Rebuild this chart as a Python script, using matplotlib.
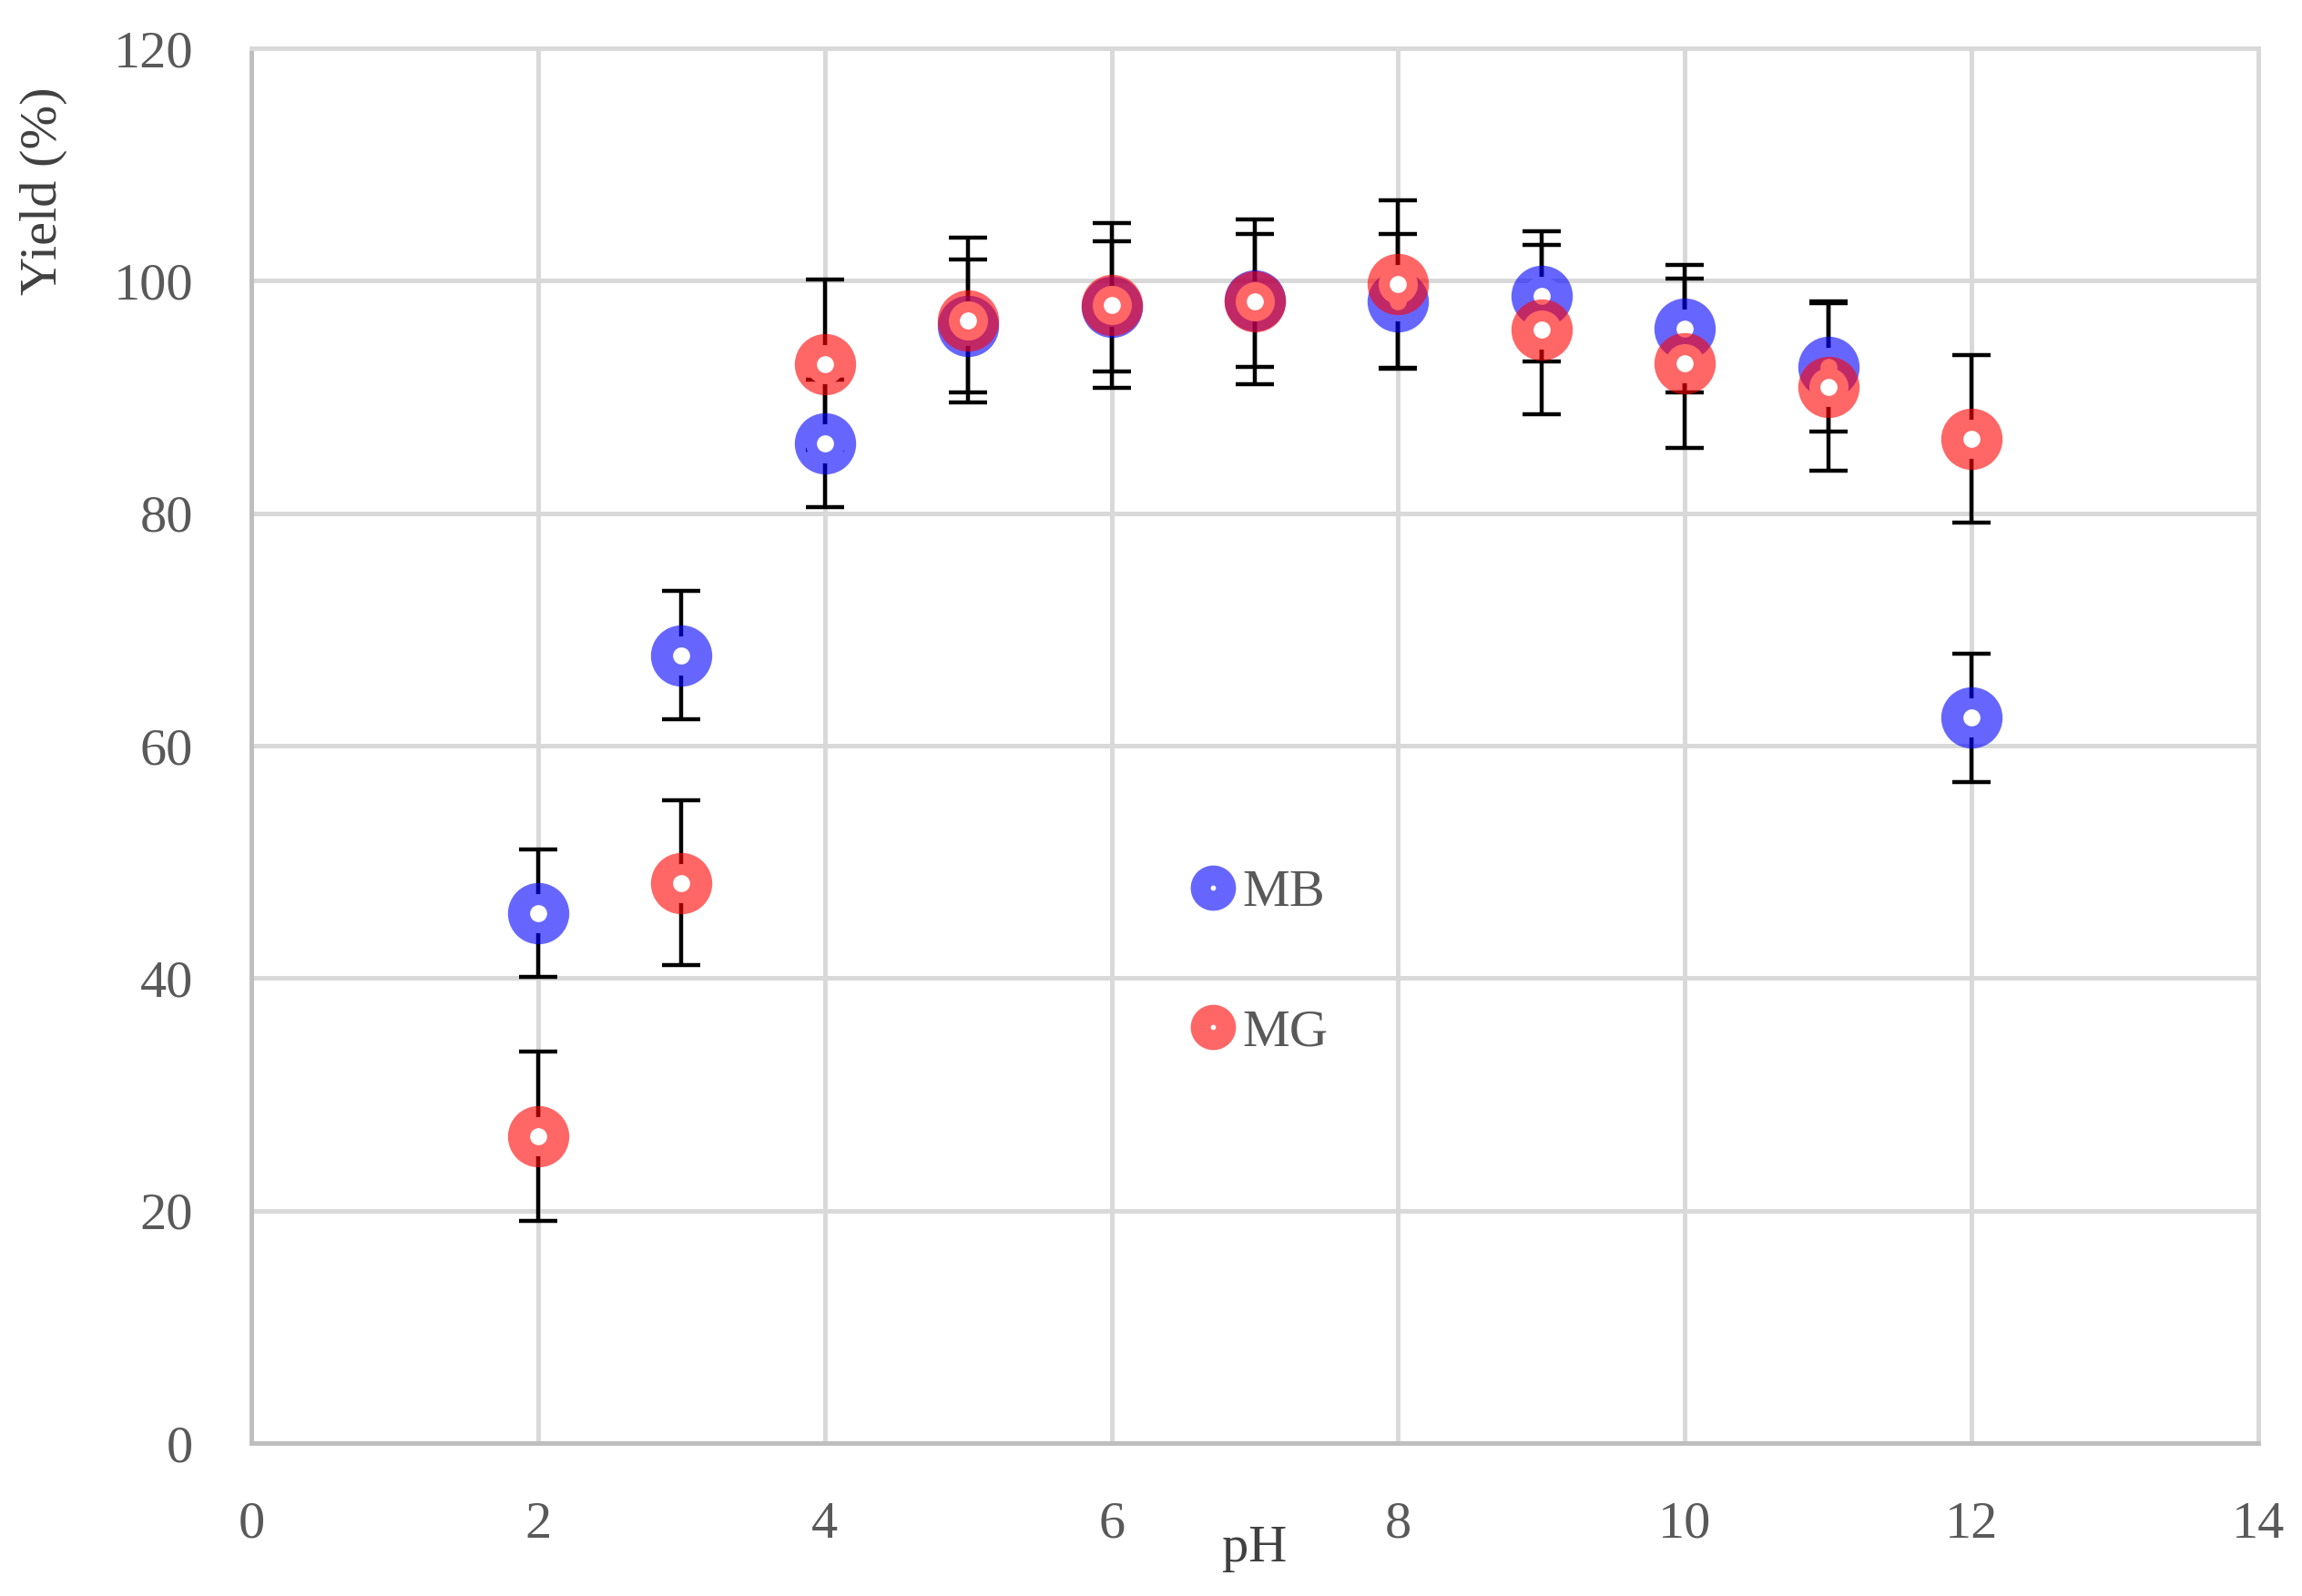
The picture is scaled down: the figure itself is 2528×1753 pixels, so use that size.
import matplotlib
matplotlib.use("Agg")
import matplotlib.pyplot as plt
from matplotlib.lines import Line2D

# pH values and measured yields (%) with error bars
ph = [2, 3, 4, 5, 6, 7, 8, 9, 10, 11, 12]
mb_yield = [45.6, 67.8, 86.0, 96.1, 97.8, 98.3, 98.2, 98.7, 95.9, 92.6, 62.4]
mb_err = [5.5, 5.5, 5.5, 5.7, 5.6, 5.7, 5.8, 5.6, 5.5, 5.6, 5.5]
mg_yield = [26.4, 48.2, 92.8, 96.6, 97.9, 98.2, 99.7, 95.8, 92.9, 90.9, 86.4]
mg_err = [7.3, 7.1, 7.3, 7.1, 7.1, 7.1, 7.2, 7.3, 7.3, 7.2, 7.2]

series_names = ["MB", "MG"]
x_ticks = [0, 2, 4, 6, 8, 10, 12, 14]
y_ticks = [0, 20, 40, 60, 80, 100, 120]

BLUE = (0, 0, 1, 0.6)
RED = (1, 0, 0, 0.6)
GRID = "#D9D9D9"
SERIF = ["Liberation Serif", "DejaVu Serif"]


def make_chart():
    fig = plt.figure(figsize=(25.28, 17.53), dpi=100)
    ax = fig.add_axes([0.1092, 0.0958, 0.8718, 0.8739])

    # error bars go under the markers
    for y, err in [(mb_yield, mb_err), (mg_yield, mg_err)]:
        ax.errorbar(ph, y, yerr=err, fmt="none", ecolor="black",
                    elinewidth=3.2, capsize=15, capthick=3.2, zorder=2)

    # ring markers: white face, thick translucent edge
    for y, color, z in [(mb_yield, BLUE, 3), (mg_yield, RED, 4)]:
        ax.plot(ph, y, linestyle="none", marker="o", markersize=31,
                markerfacecolor="white", markeredgecolor=color,
                markeredgewidth=17.5, zorder=z)

    ax.set_xlim(0, 14)
    ax.set_ylim(0, 120)
    ax.set_xticks(x_ticks)
    ax.set_yticks(y_ticks)
    ax.grid(True, color=GRID, linewidth=3.6, zorder=0)
    ax.set_axisbelow(True)

    for side in ["top", "right"]:
        ax.spines[side].set_color(GRID)
        ax.spines[side].set_linewidth(3.6)
    for side in ["left", "bottom"]:
        ax.spines[side].set_color("#BFBFBF")
        ax.spines[side].set_linewidth(3.6)

    ax.tick_params(length=0, pad=46, labelsize=42, labelcolor="#595959")
    for lab in ax.get_xticklabels() + ax.get_yticklabels():
        lab.set_family(SERIF)

    ax.set_xlabel("pH", fontsize=42, color="#404040", family=SERIF)
    ax.xaxis.set_label_coords(0.5, -0.059)
    ax.set_ylabel("Yield (%)", fontsize=42, color="#404040", family=SERIF,
                  va="center")
    ax.yaxis.set_label_coords(-0.1034, 0.8975)

    handles = [
        Line2D([], [], linestyle="none", marker="o", markersize=20,
               markerfacecolor="white", markeredgecolor=c,
               markeredgewidth=15.8)
        for c in (BLUE, RED)
    ]
    leg = ax.legend(handles, series_names, loc="center left",
                    bbox_to_anchor=(0.466, 0.3445), frameon=False,
                    prop={"family": SERIF, "size": 42},
                    handlelength=1.0, handletextpad=0.05,
                    labelspacing=1.71, borderpad=0, borderaxespad=0)
    for t in leg.get_texts():
        t.set_color("#595959")

    fig.savefig("out.png", dpi=100, facecolor="white")


if __name__ == "__main__":
    make_chart()
